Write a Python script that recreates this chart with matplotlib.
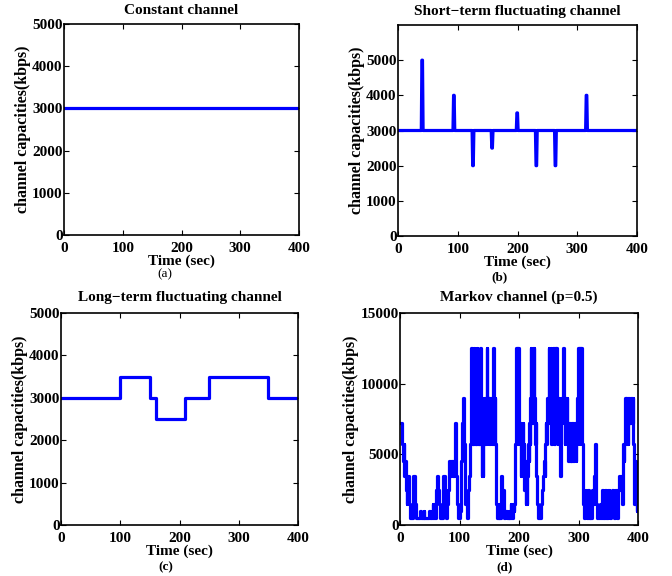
import numpy as np
import matplotlib
matplotlib.use("Agg")
import matplotlib.pyplot as plt

plt.rcParams['font.family'] = ['Liberation Serif', 'DejaVu Serif']

# ---------------- data ----------------
duration = 400
const_value = 3000

short_spike_times = [40, 93, 125, 157, 199, 231, 263, 315]
short_spike_values = [5000, 4000, 2000, 2500, 3500, 2000, 2000, 4000]
short_base = 3000

long_seg_starts = [0, 100, 150, 160, 210, 250, 350, 400]
long_seg_values = [3000, 3500, 3000, 2500, 3000, 3500, 3000, 3000]

# Markov channel: (time in sec, capacity in kbps), each value held until the next time
markov_pts = [
    (0, 7200), (3, 5700), (5, 4500), (6, 5700), (7, 3500), (9, 4500), (10, 2500), (11, 1500),
    (12, 2500), (13, 3500), (15, 1500), (16, 500), (22, 3500), (25, 2500), (26, 1500), (27, 500),
    (34, 1000), (35, 500), (40, 1000), (41, 500), (49, 1000), (50, 500), (54, 1000), (55, 1500),
    (56, 500),
    (57, 1500), (58, 500), (61, 2500), (62, 3500), (64, 2500), (66, 1500), (68, 500), (72, 2500),
    (73, 3500), (76, 2500), (77, 500), (79, 1500), (80, 2500), (82, 4500), (84, 3500), (85, 4500),
    (89, 3500), (91, 4500), (92, 7200), (94, 3500), (95, 2500), (96, 1500), (97, 500), (100, 1000),
    (102, 2500), (103, 4500), (104, 5700), (105, 7200), (106, 9000), (108, 5700), (109, 3500),
    (110, 1500), (112, 500), (115, 2500), (116, 3500),
    (118, 5700), (119, 9000), (120, 12500), (121, 5700), (122, 7200), (123, 5700), (124, 12500),
    (125, 7200), (126, 5700), (127, 7200), (128, 5700), (129, 12500), (130, 7200), (131, 5700),
    (132, 7200), (133, 5700), (134, 9000), (135, 12500), (136, 5700), (137, 3500), (138, 5700),
    (139, 3500), (140, 7200), (141, 9000), (142, 5700), (143, 9000), (144, 5700), (145, 9000),
    (146, 12500), (147, 7200), (148, 9000), (149, 5700), (150, 9000), (151, 5700), (152, 7200),
    (153, 9000), (154, 5700), (155, 9000), (156, 5700), (157, 12500), (158, 5700), (159, 9000),
    (160, 5700), (161, 3500), (162, 1500),
    (163, 500), (166, 1500), (167, 500), (170, 3500), (171, 2500), (172, 1500), (173, 2500),
    (174, 1500), (175, 500), (177, 1000), (179, 500), (183, 1000), (184, 500), (186, 1500),
    (187, 1000), (188, 500), (190, 1500), (191, 1000), (192, 1500), (193, 2500),
    (194, 5700), (195, 12500), (196, 7200), (197, 12500), (198, 5700), (199, 12500), (200, 7200),
    (201, 5700), (202, 7200), (203, 3500), (204, 5700), (205, 4500), (206, 7200), (207, 3500),
    (208, 5700), (209, 2500), (210, 4500), (211, 1500), (212, 3500), (213, 1500), (214, 3500),
    (215, 5700), (216, 4500), (217, 7200), (218, 5700), (219, 9000), (220, 12500), (221, 7200),
    (222, 9000), (223, 12500), (224, 7200), (225, 12500), (226, 9000), (227, 5700), (228, 7200),
    (229, 3500), (230, 2500), (231, 1500), (232, 500), (237, 1500), (239, 2500),
    (240, 3500), (242, 4500), (243, 3500), (244, 5700), (245, 7200), (246, 5700), (247, 9000),
    (248, 7200), (249, 9000), (250, 12500), (251, 7200), (252, 9000), (253, 12500), (254, 5700),
    (255, 9000), (256, 7200), (257, 12500), (258, 9000), (259, 5700), (260, 9000), (261, 12500),
    (262, 7200), (263, 12500), (264, 9000), (265, 5700), (266, 9000), (267, 7200), (268, 5700),
    (269, 3500), (270, 5700), (271, 9000), (272, 7200), (273, 9000), (274, 12500), (275, 7200),
    (276, 9000), (277, 5700), (278, 9000), (279, 7200), (280, 9000), (281, 5700), (282, 7200),
    (283, 4500), (284, 7200), (285, 5700), (286, 4500), (287, 7200), (288, 4500), (289, 7200),
    (290, 5700), (291, 4500), (292, 7200), (293, 5700), (294, 7200), (295, 4500), (296, 7200),
    (297, 5700), (298, 9000), (299, 12500), (300, 7200), (301, 12500), (302, 5700), (303, 12500),
    (304, 7200), (305, 12500), (306, 5700), (307, 2500), (308, 1500),
    (309, 500), (311, 1500), (312, 2500), (313, 1500), (314, 500), (316, 2500), (317, 1000),
    (318, 500), (319, 1500), (320, 500), (323, 2500), (324, 1500), (326, 3500), (327, 4500),
    (328, 5700), (329, 2500), (330, 1500), (331, 500), (333, 1000), (334, 500), (336, 1500),
    (337, 500), (340, 2500), (341, 1500), (342, 500), (345, 2500), (346, 1500), (347, 500),
    (349, 2500), (350, 1000), (351, 2500), (352, 1500), (353, 500), (355, 1500), (356, 2500),
    (358, 1000), (359, 500), (361, 2500), (362, 1500), (363, 2500), (364, 1000), (365, 500),
    (367, 2500), (368, 3500),
    (369, 2500), (371, 3500), (373, 1500), (374, 3500), (375, 5700), (376, 4500), (377, 5700),
    (378, 9000), (379, 7200), (380, 9000), (381, 5700), (382, 7200), (383, 5700), (384, 9000),
    (385, 7200), (386, 9000), (387, 7200), (388, 9000), (390, 7200), (391, 9000), (392, 5700),
    (393, 4500), (394, 1500), (395, 4500), (396, 1500), (397, 2500), (398, 1000), (399, 2500),
    (400, 1000),
]
markov_t = [p[0] for p in markov_pts]
markov_v = [p[1] for p in markov_pts]

x_ticks = [0, 100, 200, 300, 400]

# ---------------- figure ----------------
W, H = 672, 576
fig = plt.figure(figsize=(W / 100, H / 100), dpi=100)


def ax_at(l, t, r, b):
    return fig.add_axes([l / W, 1 - b / H, (r - l) / W, (b - t) / H])


LINE = dict(color='#0000ff', linewidth=2.3)
FS = 11


def style(ax, title, yticks, ylim, tpad):
    ax.set_xlim(0, duration)
    ax.set_ylim(*ylim)
    ax.set_xticks(x_ticks)
    ax.set_yticks(yticks)
    ax.tick_params(direction='in', length=3.5, width=0.8, top=True, right=True,
                   labelsize=FS)
    ax.tick_params(axis='x', pad=5)
    ax.tick_params(axis='y', pad=1)
    for lab in ax.get_xticklabels() + ax.get_yticklabels():
        lab.set_fontweight('bold')
    for s in ax.spines.values():
        s.set_linewidth(1.2)
    ax.set_title(title, fontsize=FS, fontweight='bold', pad=tpad)
    ax.set_xlabel('Time (sec)', fontsize=FS, fontweight='bold', labelpad=0)
    ax.set_ylabel('channel capacities(kbps)', fontsize=11.5, fontweight='bold', labelpad=1)


# (a) Constant
ax1 = ax_at(64, 24, 299, 235)
ax1.plot([0, duration], [const_value, const_value], **LINE)
style(ax1, 'Constant channel', [0, 1000, 2000, 3000, 4000, 5000], (0, 5000), 7.5)

# (b) Short-term fluctuating
t_short = np.arange(0, duration + 1)
v_short = np.full(t_short.shape, short_base, dtype=float)
for st, sv in zip(short_spike_times, short_spike_values):
    v_short[st:st + 2] = sv
ax2 = ax_at(398, 25, 637, 236)
ax2.plot(t_short, v_short, **LINE)
style(ax2, 'Short\u2212term fluctuating channel', [0, 1000, 2000, 3000, 4000, 5000], (0, 6000), 7.5)

# (c) Long-term fluctuating
ax3 = ax_at(61, 313, 298, 525)
ax3.step(long_seg_starts, long_seg_values, where='post', **LINE)
style(ax3, 'Long\u2212term fluctuating channel', [0, 1000, 2000, 3000, 4000, 5000], (0, 5000), 9)

# (d) Markov
ax4 = ax_at(400, 313, 638, 525)
ax4.step(markov_t, markov_v, where='post', **LINE)
style(ax4, 'Markov channel (p=0.5)', [0, 5000, 10000, 15000], (0, 15000), 9)

fig.text(165 / W, 1 - 274 / H, '(a)', ha='center', va='center', fontsize=9.5)
fig.text(499 / W, 1 - 277 / H, '(b)', ha='center', va='center', fontsize=9.5, fontweight='bold')
fig.text(166 / W, 1 - 567 / H, '(c)', ha='center', va='center', fontsize=9.5, fontweight='bold')
fig.text(505 / W, 1 - 567 / H, '(d)', ha='center', va='center', fontsize=9.5, fontweight='bold')

fig.savefig('out.png', dpi=100)
